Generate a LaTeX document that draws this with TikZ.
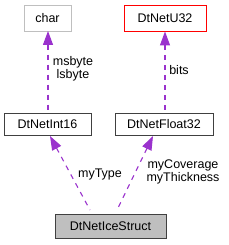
\documentclass[tikz,border=0pt]{standalone}
\usepackage{fontspec}
\setmainfont{Liberation Sans}
\usetikzlibrary{arrows.meta}
\definecolor{relcol}{RGB}{154,50,205}
\begin{document}
\begin{tikzpicture}[x=1pt,y=-1pt,
  box/.style={draw, rectangle, inner sep=0pt, line width=0.9pt, font=\fontsize{12.5}{13}\selectfont},
  lbl/.style={font=\fontsize{12.5}{12.5}\selectfont, inner sep=0pt, align=center},
  rel/.style={draw=relcol, line width=1.1pt, dash pattern=on 5pt off 5pt,
    {Triangle[width=10pt,length=14pt,fill=relcol]}-}]
\useasboundingbox (0,0) rectangle (228,245);
\node[box, draw={rgb,255:red,191;green,191;blue,191}, minimum width=47pt, minimum height=26pt] (char) at (47.5,18) {char};
\node[box, draw={rgb,255:red,255;green,0;blue,0}, minimum width=82pt, minimum height=26pt] (u32) at (165,18) {DtNetU32};
\node[box, draw={rgb,255:red,64;green,64;blue,64}, minimum width=87pt, minimum height=22pt] (i16) at (47.5,124) {DtNetInt16};
\node[box, draw={rgb,255:red,64;green,64;blue,64}, minimum width=98pt, minimum height=22pt] (f32) at (164,124) {DtNetFloat32};
\node[box, draw={rgb,255:red,64;green,64;blue,64}, fill={rgb,255:red,191;green,191;blue,191}, minimum width=111pt, minimum height=24pt] (ice) at (110.5,226) {DtNetIceStruct};
\coordinate (chb) at (48,31);
\coordinate (i16top) at (48,113);
\coordinate (i16t) at (50,136);
\coordinate (icel) at (90,210);
\coordinate (f32t) at (153,136);
\coordinate (icer) at (117,210);
\draw[rel] (chb) -- (i16top);
\draw[rel] (u32.south) -- (u32.south |- f32.north);
\draw[rel] (i16t) -- (icel);
\draw[rel] (f32t) -- (icer);
\node[lbl] (l1) at (73,69) {msbyte\\lsbyte};
\node[lbl] (l2) at (179,70) {bits};
\node[lbl] (l3) at (100,174) {myType};
\node[lbl] (l4) at (183,172) {myCoverage\\myThickness};
\end{tikzpicture}
\end{document}
